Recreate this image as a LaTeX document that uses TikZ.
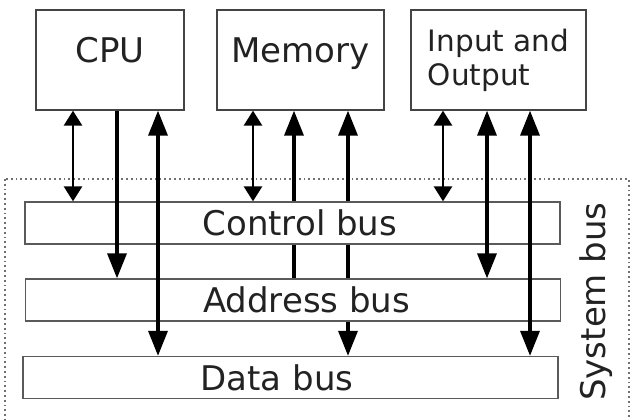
\documentclass[tikz,border=0pt]{standalone}
\usepackage{fontspec}
\setmainfont{DejaVu Sans}
\usepackage{tikz}
\usetikzlibrary{arrows.meta, positioning, backgrounds}
\definecolor{boxGray}{HTML}{444444}
\definecolor{busGray}{HTML}{5A5A5A}
\definecolor{frameGray}{HTML}{707070}
\definecolor{inkDark}{HTML}{222222}

\begin{document}
\begin{tikzpicture}[
  x=1pt, y=-1pt,
  >={Triangle[length=25pt,width=19pt]},
  font=\fontsize{34}{40}\selectfont,
  hwbox/.style={draw=boxGray, line width=1.3pt, fill=white, text=inkDark,
               minimum width=#1, minimum height=100pt, inner sep=0pt},
  oneline/.style={text height=0.75em, text depth=0.25em},
  bus/.style={draw=busGray, line width=1.3pt, fill=white,
              minimum width=535pt, minimum height=42pt, inner sep=0pt},
  buslabel/.style={text=inkDark, inner sep=0pt},
  frame/.style={draw=frameGray, line width=1.8pt, dash pattern=on 1.8pt off 3pt},
  ctl/.style={arrows={Triangle[length=15pt,width=18pt]-Triangle[length=15pt,width=18pt]},
              line width=2.7pt},
  wide/.style={line width=3.4pt}
]
\useasboundingbox (0,0) rectangle (640,420);

\node[hwbox=148pt, oneline] (cpu) at (110,60) {CPU};
\node[hwbox=167pt, oneline] (mem) at (300.5,60) {Memory};
\node[hwbox=175pt, align=left, font=\fontsize{29.5}{34}\selectfont] (io) at (498.5,60)
  {Input and\\Output};

\node[bus] (ctrl) at (292.5,223) {};
\node[bus] (addr) at (293,300) {};
\node[bus] (data) at (290.5,377.5) {};
\node[buslabel, right=178pt of ctrl.west] (ctrltext) {Control bus};
\node[buslabel, right=178pt of addr.west] (addrtext) {Address bus};
\node[buslabel, right=178pt of data.west] (datatext) {Data bus};

\node[text=inkDark, rotate=90, anchor=base] (sysbus) at (605,301.5) {System bus};

% memory lines run behind the bus bars
\begin{scope}[on background layer]
  \draw[frame] (5,179) rectangle (629,430);
  \draw[wide, ->] (294,0 |- addr.north) -- (294,0 |- mem.south);
  \draw[wide, <->] (348,0 |- mem.south) -- (348,0 |- data.north);
\end{scope}

\draw[ctl] (73,0 |- cpu.south) -- (73,0 |- ctrl.north);
\draw[wide, ->] (117,0 |- cpu.south) -- (117,0 |- addr.north);
\draw[wide, <->] (158,0 |- cpu.south) -- (158,0 |- data.north);

\draw[ctl] (253,0 |- mem.south) -- (253,0 |- ctrl.north);

\draw[ctl] (443,0 |- io.south) -- (443,0 |- ctrl.north);
\draw[wide, <->] (487,0 |- io.south) -- (487,0 |- addr.north);
\draw[wide, <->] (530,0 |- io.south) -- (530,0 |- data.north);
\end{tikzpicture}
\end{document}
